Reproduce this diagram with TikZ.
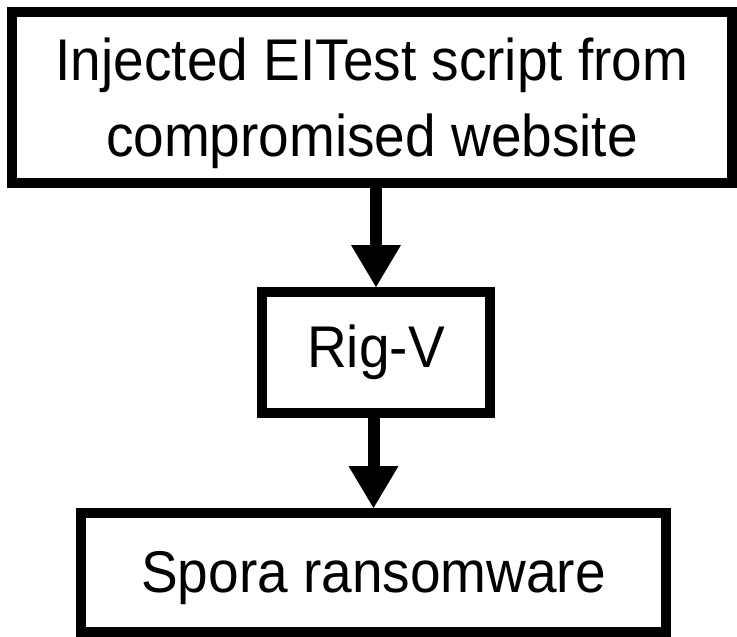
\documentclass[tikz,border=0pt]{standalone}
\usepackage{fontspec}
\setmainfont{Liberation Sans}
\usepackage{graphicx}
\usetikzlibrary{arrows.meta}
\newcommand\tallline[2]{\raisebox{#1}[\height][\depth]{\scalebox{1}[1.07]{\begin{tabular}{@{}c@{}}#2\end{tabular}}}}
\begin{document}
\begin{tikzpicture}[x=1pt,y=-1pt,
  box/.style={draw=black,line width=10pt,fill=white,inner sep=0pt,align=center,
    font=\fontsize{55}{71}\selectfont},
  flow/.style={line width=12pt,-{Triangle[width=50pt,length=42pt,line width=0pt]}}]
\fill[white] (0,0) rectangle (737,637);
\useasboundingbox (0,0) rectangle (737,637);
\node[box,minimum width=720pt,minimum height=171pt] (inj) at (372,97.5)
  {\tallline{-6pt}{Injected EITest script from\\compromised website}};
\node[box,minimum width=228pt,minimum height=121pt] (rig) at (376,352.5)
  {\tallline{0pt}{Rig-V}};
\node[box,minimum width=585pt,minimum height=119pt] (spo) at (373.5,572.5)
  {\tallline{-5pt}{Spora ransomware}};
\draw[flow] (rig.north |- inj.south) -- (rig.north);
\draw[flow] (spo.north |- rig.south) -- (spo.north);
\end{tikzpicture}
\end{document}
